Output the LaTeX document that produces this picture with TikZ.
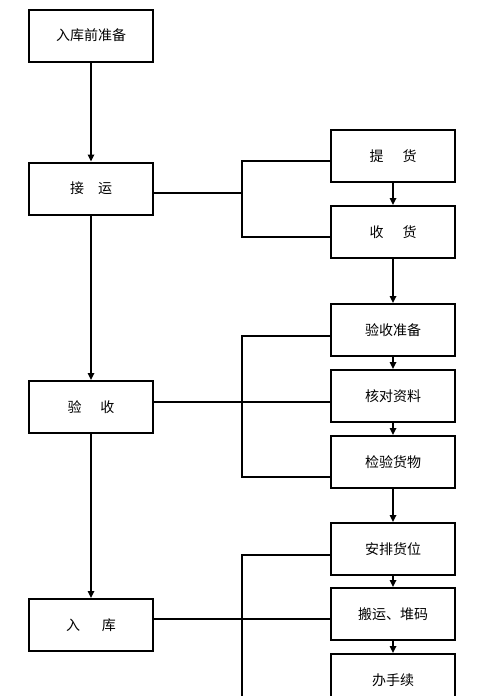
\documentclass[tikz,border=0pt]{standalone}
\usepackage{fontspec}
\newfontfamily\cjk{Noto Sans CJK SC}
\usetikzlibrary{arrows.meta}
\tikzset{
  box/.style={draw, line width=2pt, minimum width=124pt, minimum height=52pt, inner sep=0pt, font=\cjk\fontsize{14}{16}\selectfont},
  conn/.style={line width=2pt},
  flow/.style={line width=1.6pt, -{Triangle[length=7pt,width=6.5pt]}}
}
\begin{document}
\begin{tikzpicture}[x=1pt,y=-1pt]
\useasboundingbox (0,0) rectangle (477,696);
\clip (0,0) rectangle (477,696);
\fill[white] (0,0) rectangle (477,696);
% left column
\node[box] (l1) at (91,35.5) {入库前准备};
\node[box] (l2) at (91,188.5) {接\hspace{14pt}运};
\node[box] (l3) at (91,407) {验\hspace{19pt}收};
\node[box] (l4) at (91,625) {入\hspace{22pt}库};
% right column
\node[box] (r1) at (393,156) {提\hspace{19pt}货};
\node[box] (r2) at (393,232) {收\hspace{19pt}货};
\node[box] (r3) at (393,330) {验收准备};
\node[box] (r4) at (393,396) {核对资料};
\node[box] (r5) at (393,462) {检验货物};
\node[box] (r6) at (393,549) {安排货位};
\node[box] (r7) at (393,614) {搬运、堆码};
\node[box] (r8) at (393,680) {办手续};
\coordinate (bx) at (242,0);
% left flow
\draw[flow] (l1) -- (l2);
\draw[flow] (l2) -- (l3);
\draw[flow] (l3) -- (l4);
% right flow
\draw[flow] (r1) -- (r2);
\draw[flow] (r2) -- (r3);
\draw[flow] (r3) -- (r4);
\draw[flow] (r4) -- (r5);
\draw[flow] (r5) -- (r6);
\draw[flow] (r6) -- (r7);
\draw[flow] (r7) -- (r8);
% bracket 1
\coordinate (a0) at ([yshift=-4.5pt]l2.east);
\coordinate (a1) at ([yshift=-5pt]r1.west);
\coordinate (a2) at ([yshift=-5pt]r2.west);
\draw[conn] (a0) -- (a0 -| bx);
\draw[conn] (a1) -- (a1 -| bx) -- (a2 -| bx) -- (a2);
% bracket 2
\coordinate (b0) at ([yshift=5pt]l3.east);
\coordinate (b1) at ([yshift=-6pt]r3.west);
\coordinate (b3) at ([yshift=-15pt]r5.west);
\draw[conn] (b0) -- (b0 -| r4.west);
\draw[conn] (b1) -- (b1 -| bx) -- (b3 -| bx) -- (b3);
% bracket 3
\coordinate (c0) at ([yshift=6pt]l4.east);
\coordinate (c1) at ([yshift=-6pt]r6.west);
\coordinate (c3) at ([yshift=-20pt]r8.west);
\draw[conn] (c0) -- (c0 -| r7.west);
\draw[conn] (c1) -- (c1 -| bx) -- (c3 -| bx) -- (c3);
\end{tikzpicture}
\end{document}
